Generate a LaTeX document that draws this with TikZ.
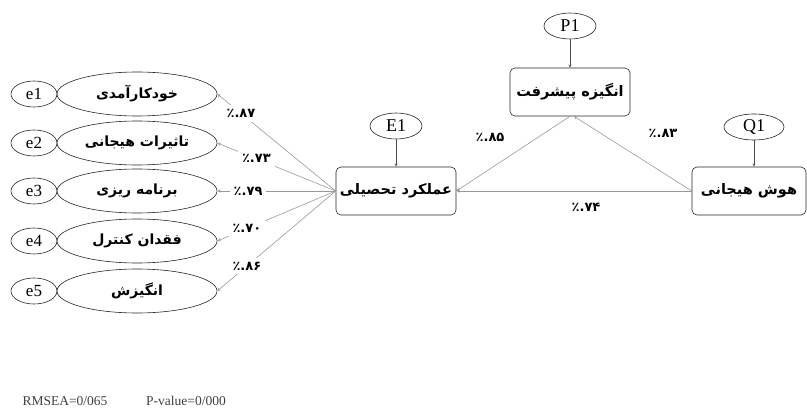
\documentclass[tikz,border=0pt]{standalone}
\usepackage{fontspec}
\setmainfont{Liberation Serif}
\newfontfamily\farsi[Script=Arabic]{DejaVu Sans}
\TeXXeTstate=1
\usetikzlibrary{shapes, arrows}

\newcommand{\fa}[1]{{\farsi\bfseries\beginR #1\endR}}
\newcommand{\pc}[1]{{\farsi\bfseries\hbox{٪}\hbox{.}\hbox{#1}}}

\begin{document}
\begin{tikzpicture}[x=1pt, y=-1pt]
    \tikzstyle{latent} = [ellipse, draw=black!85, semithick, minimum width=160pt, minimum height=44pt, inner sep=0pt, font=\fontsize{14}{16}\selectfont]
    \tikzstyle{err} = [ellipse, draw=black!85, semithick, minimum width=46pt, minimum height=26pt, inner sep=0pt, font=\fontsize{17}{19}\selectfont]
    \tikzstyle{errtop} = [ellipse, draw=black!85, semithick, minimum width=52pt, minimum height=26pt, inner sep=0pt, font=\fontsize{18}{20}\selectfont]
    \tikzstyle{process} = [rectangle, draw=black!85, semithick, rounded corners=5pt, minimum width=120pt, minimum height=48pt, text centered, font=\fontsize{14.5}{16}\selectfont]
    \tikzstyle{path} = [gray!80, semithick, -stealth]
    \tikzstyle{errpath} = [black!70, -stealth]
    \tikzstyle{coef} = [fill=white, text=black, inner sep=4pt, font=\fontsize{13}{15}\selectfont]

    \useasboundingbox (0,0) rectangle (807,409);

    % left factors
    \node (f1) [latent] at (137,94) {\fa{خودکارآمدی}};
    \node (f2) [latent] at (137,143) {\fa{تاثیرات هیجانی}};
    \node (f3) [latent] at (137,191) {\fa{برنامه ریزی}};
    \node (f4) [latent] at (137,241) {\fa{فقدان کنترل}};
    \node (f5) [latent] at (137,291) {\fa{انگیزش}};
    \node (e1) [err] at (34,94) {e1};
    \node (e2) [err] at (34,143) {e2};
    \node (e3) [err] at (34,191) {e3};
    \node (e4) [err] at (34,241) {e4};
    \node (e5) [err] at (34,291) {e5};

    % main boxes
    \node (perf) [process] at (396,191) {\fa{عملکرد تحصیلی}};
    \node (motiv) [process] at (570,92) {\fa{انگیزه پیشرفت}};
    \node (emo) [process, minimum width=114pt] at (749,191) {\fa{هوش هیجانی}};
    \node (E1) [errtop] at (396,126) {E1};
    \node (P1) [errtop] at (570,26) {P1};
    \node (Q1) [errtop, minimum width=60pt] at (754,127) {Q1};

    % Arrows
    \draw [path] (perf.west) -- node[coef, pos=0.8] {\pc{۸۷}} (f1.east);
    \draw [path] (perf.west) -- node[coef, pos=0.67] {\pc{۷۳}} (f2.east);
    \draw [path] (perf.west) -- node[coef, pos=0.74] {\pc{۷۹}} (f3.east);
    \draw [path] (perf.west) -- node[coef, pos=0.75] {\pc{۷۰}} (f4.east);
    \draw [path] (perf.west) -- node[coef, pos=0.75] {\pc{۸۶}} (f5.east);
    \draw [path] (emo.west) -- (perf.east);
    \draw [path] (emo.west) -- ([xshift=4pt]motiv.south);
    \draw [path] (motiv.south) -- (perf.east);
    \draw [errpath] (E1) -- (perf);
    \draw [errpath] (P1) -- (motiv);
    \draw [errpath] (Q1.south) -- (Q1.south |- emo.north);

    % loadings of the structural part
    \node (c85) [font=\fontsize{13}{15}\selectfont] at (490,137) {\pc{۸۵}};
    \node (c83) [font=\fontsize{13}{15}\selectfont] at (663,133) {\pc{۸۳}};
    \node (c74) [font=\fontsize{13}{15}\selectfont] at (586,207) {\pc{۷۴}};

    % fit indices
    \node (rmsea) [text=black!75, font=\fontsize{13.5}{15}\selectfont] at (65,401) {RMSEA=0/065};
    \node (pval) [text=black!75, font=\fontsize{13.5}{15}\selectfont] at (186,401) {P-value=0/000};
\end{tikzpicture}
\end{document}
